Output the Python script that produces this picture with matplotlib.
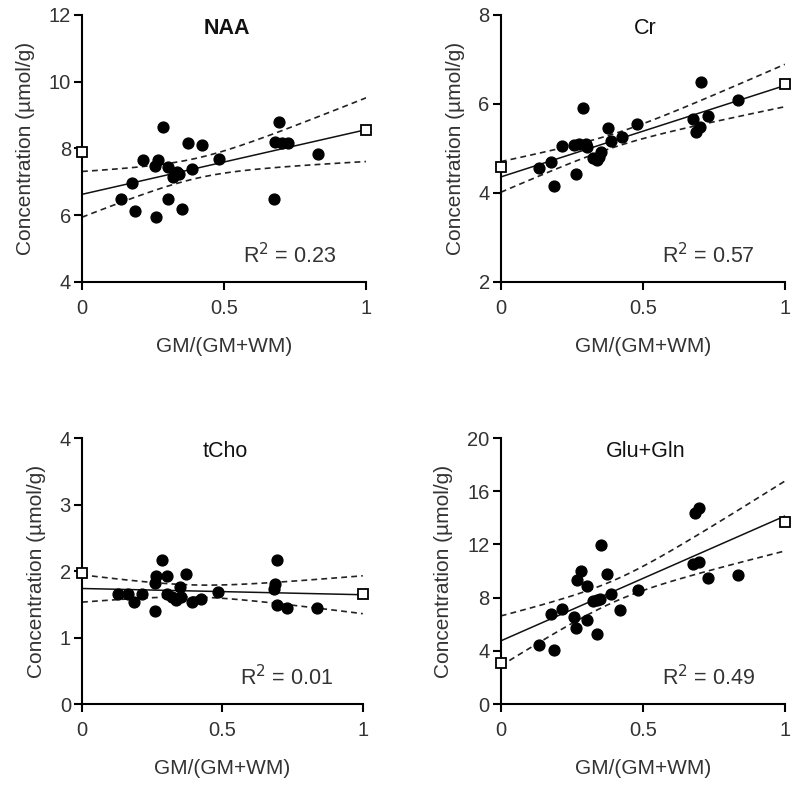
import numpy as np
import matplotlib
matplotlib.use("Agg")
import matplotlib.pyplot as plt

plt.rcParams['font.family'] = ['Liberation Sans', 'DejaVu Sans']

naa_x = [0.136, 0.175, 0.187, 0.214, 0.261, 0.257, 0.269, 0.284, 0.304, 0.304, 0.322, 0.333,
         0.343, 0.351, 0.374, 0.386, 0.421, 0.482, 0.677, 0.695, 0.680, 0.703, 0.726, 0.832]
naa_y = [6.50, 6.97, 6.13, 7.65, 5.95, 7.48, 7.65, 8.65, 7.45, 6.50, 7.15, 7.30,
         7.25, 6.20, 8.17, 7.40, 8.10, 7.68, 6.50, 8.80, 8.20, 8.17, 8.17, 7.83]
naa_sq = [7.88, 8.55]

cr_x = [0.135, 0.175, 0.187, 0.214, 0.264, 0.257, 0.276, 0.288, 0.300, 0.304, 0.323, 0.337,
        0.346, 0.354, 0.378, 0.387, 0.425, 0.481, 0.677, 0.689, 0.700, 0.704, 0.730, 0.836]
cr_y = [4.57, 4.70, 4.16, 5.06, 4.42, 5.07, 5.10, 5.92, 5.11, 5.04, 4.78, 4.75,
        4.81, 4.93, 5.47, 5.17, 5.26, 5.55, 5.67, 5.37, 5.49, 6.50, 5.73, 6.09]
cr_sq = [4.58, 6.45]

cho_x = [0.129, 0.165, 0.186, 0.212, 0.259, 0.259, 0.265, 0.286, 0.301, 0.301, 0.322, 0.336,
         0.348, 0.354, 0.372, 0.390, 0.423, 0.485, 0.682, 0.688, 0.694, 0.695, 0.730, 0.838]
cho_y = [1.66, 1.65, 1.54, 1.66, 1.40, 1.82, 1.93, 2.17, 1.93, 1.66, 1.61, 1.56,
         1.76, 1.61, 1.96, 1.54, 1.58, 1.68, 1.73, 1.81, 2.17, 1.49, 1.44, 1.44]
cho_sq = [1.97, 1.65]

glx_x = [0.135, 0.187, 0.175, 0.214, 0.257, 0.264, 0.269, 0.284, 0.304, 0.304, 0.323, 0.337,
         0.349, 0.339, 0.352, 0.374, 0.388, 0.421, 0.484, 0.677, 0.697, 0.685, 0.698, 0.730, 0.836]
glx_y = [4.46, 4.04, 6.78, 7.16, 6.58, 5.71, 9.33, 10.02, 8.90, 6.33, 7.78, 7.83,
         7.90, 5.29, 11.97, 9.80, 8.28, 7.08, 8.59, 10.57, 10.65, 14.39, 14.76, 9.48, 9.73]
glx_sq = [3.10, 13.70]

titles = ['NAA', 'Cr', 'tCho', 'Glu+Gln']
r2_labels = ['0.23', '0.57', '0.01', '0.49']
ylims = [(4, 12), (2, 8), (0, 4), (0, 20)]
yticks = [[4, 6, 8, 10, 12], [2, 4, 6, 8], [0, 1, 2, 3, 4], [0, 4, 8, 12, 16, 20]]

T95 = 2.07
txt = '#333333'

fig = plt.figure(figsize=(8, 7.89), dpi=100)
boxes = [[0.1025, 0.6426, 0.355, 0.3384], [0.626, 0.6426, 0.355, 0.3384],
         [0.1025, 0.1077, 0.351, 0.337], [0.626, 0.1077, 0.355, 0.337]]
data = [(naa_x, naa_y, naa_sq), (cr_x, cr_y, cr_sq), (cho_x, cho_y, cho_sq), (glx_x, glx_y, glx_sq)]

for i, (xs, ys, sq) in enumerate(data):
    ax = fig.add_axes(boxes[i])
    x = np.array(xs)
    y = np.array(ys)
    n = len(x)
    # linear fit + 95% confidence band
    slope, icpt = np.polyfit(x, y, 1)
    xx = np.linspace(0, 1, 100)
    fit = icpt + slope * xx
    s = np.sqrt(np.sum((y - (icpt + slope * x)) ** 2) / (n - 2))
    sxx = np.sum((x - x.mean()) ** 2)
    half = T95 * s * np.sqrt(1.0 / n + (xx - x.mean()) ** 2 / sxx)

    ax.plot(xx, fit, color='#111111', lw=1.1)
    ax.plot(xx, fit + half, color='#222222', lw=1.2, ls=(0, (3.5, 2.5)))
    ax.plot(xx, fit - half, color='#222222', lw=1.2, ls=(0, (3.5, 2.5)))
    ax.plot(x, y, 'o', color='black', ms=7.8, zorder=3)
    ax.plot([0, 1], sq, 's', mfc='white', mec='black', mew=1.3, ms=6.5, clip_on=False, zorder=4)

    ax.set_xlim(0, 1)
    ax.set_ylim(*ylims[i])
    ax.set_xticks([0, 0.5, 1])
    ax.set_xticklabels(['0', '0.5', '1'])
    ax.set_yticks(yticks[i])
    for sp in ['top', 'right']:
        ax.spines[sp].set_visible(False)
    for sp in ['left', 'bottom']:
        ax.spines[sp].set_linewidth(1.5)
    ax.tick_params(width=1.5, length=6, labelsize=14.5, labelcolor=txt, pad=2)
    ax.tick_params(axis='x', pad=6)

    ax.set_xlabel('GM/(GM+WM)', fontsize=15, color=txt, labelpad=14)
    ax.set_ylabel('Concentration (µmol/g)', fontsize=15, color=txt, labelpad=10)
    ax.text(0.51, 0.95, titles[i], transform=ax.transAxes, ha='center', va='center',
            fontsize=15.5, fontweight='bold' if i == 0 else 'normal', color='#111111')
    ax.text(0.73, 0.10, 'R$^2$ = ' + r2_labels[i], transform=ax.transAxes, ha='center',
            va='center', fontsize=15.5, color=txt)

fig.savefig('out.png', dpi=100)
